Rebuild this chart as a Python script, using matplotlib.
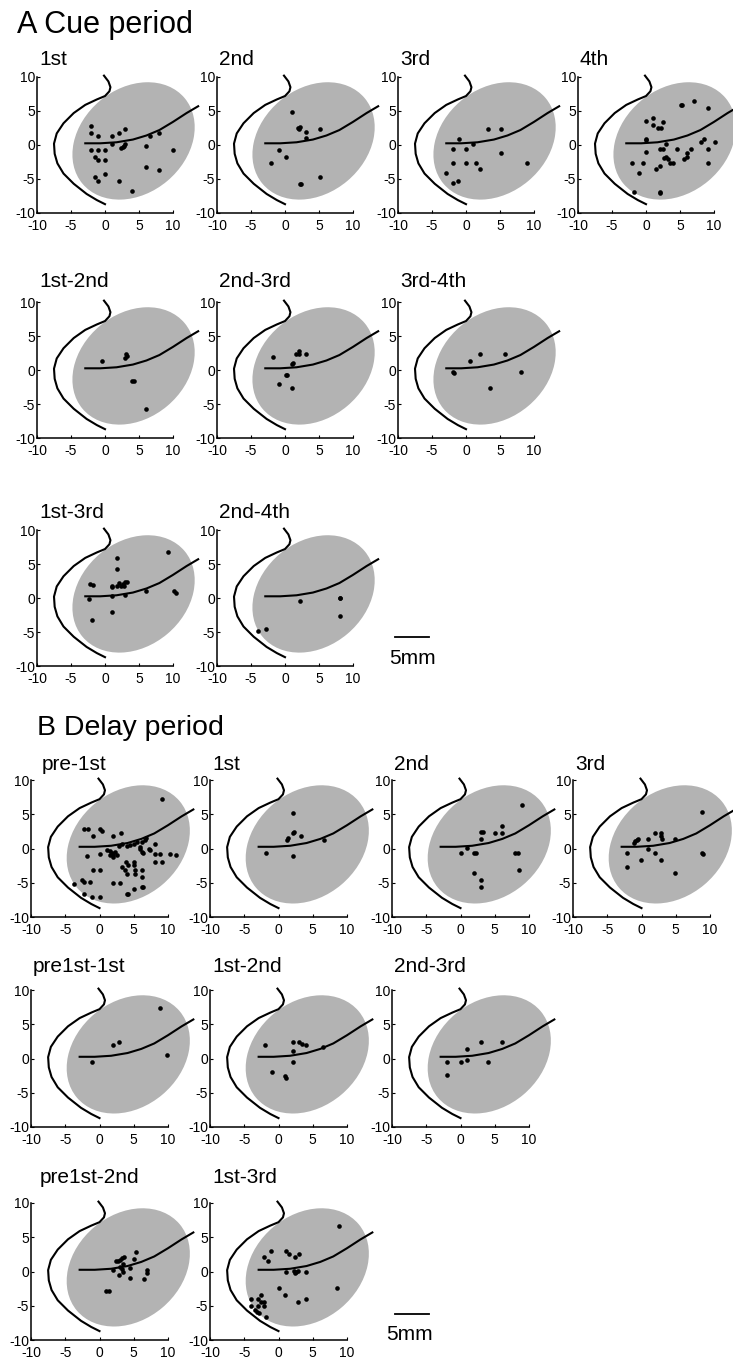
import numpy as np
import matplotlib
matplotlib.use("Agg")
import matplotlib.pyplot as plt
from matplotlib.patches import Ellipse

plt.rcParams['font.family'] = ['Liberation Sans', 'DejaVu Sans']
plt.rcParams['axes.unicode_minus'] = False

# ---- outline template (mm) ----
arc_x = [-0.15, 0.5, 0.8, 0.65, 0.0, -1.2, -2.9, -4.6, -6.1, -7.1, -7.5, -7.4, -7.0, -6.1, -4.6, -2.7, -1.2, 0.0]
arc_y = [10.2, 9.35, 8.5, 7.9, 7.2, 6.7, 5.9, 4.7, 3.2, 1.7, 0.2, -1.3, -2.7, -4.2, -5.7, -7.2, -8.1, -8.7]
line_x = [-2.9, -0.7, 1.7, 4.1, 6.1, 8.0, 10.0, 12.0, 13.7]
line_y = [0.25, 0.25, 0.4, 0.8, 1.4, 2.2, 3.4, 4.7, 5.7]
region_center = (4.2, 0.6)
region_size = (19.6, 15.4)
region_angle = 40

# ---- recording sites, cue period ----
cue_1st = [(-2.0, 2.8), (-2.0, 1.8), (-1.0, 1.3), (-2.0, -0.7), (-1.0, -0.7), (0.0, -0.7),
           (-1.5, -1.7), (-1.0, -2.2), (0.0, -2.2), (-1.5, -4.7), (-1.0, -5.3), (0.0, -4.2),
           (1.1, 1.3), (2.0, 1.8), (3.0, 2.3), (1.0, 0.1), (2.3, -0.4), (2.6, -0.3), (2.8, -0.1),
           (2.9, 0.2), (2.0, -5.3), (4.0, -6.8), (6.0, -0.2), (6.6, 1.3), (8.0, 1.8), (6.0, -3.2),
           (8.0, -3.7), (10.0, -0.7)]
cue_2nd = [(1.1, 4.9), (1.9, 2.5), (2.2, 2.6), (2.0, 2.4), (3.1, 1.85), (3.1, 1.1), (5.1, 2.3),
           (-0.9, -0.7), (0.1, -1.7), (-2.0, -2.7), (2.2, -5.7), (2.4, -5.7), (5.1, -4.7)]
cue_3rd = [(-1.0, 0.9), (-1.9, -0.6), (0.0, -0.6), (1.1, 0.15), (3.2, 2.4), (5.1, 2.4), (5.1, -1.2),
           (-1.9, -2.6), (0.0, -2.6), (1.5, -2.6), (2.1, -3.6), (-3.0, -4.1), (-1.9, -5.6),
           (-1.2, -5.3), (9.0, -2.6)]
cue_4th = [(0.05, 3.5), (1.0, 3.9), (1.0, 3.0), (1.8, 2.5), (2.2, 2.5), (2.5, 3.4), (0.05, 0.9),
           (0.05, 0.7), (0.05, -1.1), (3.0, 0.15), (2.0, -0.6), (2.5, -0.6), (4.5, -0.6), (5.2, 5.9),
           (5.3, 5.9), (7.1, 6.4), (9.1, 5.4), (8.6, 0.9), (8.1, 0.4), (10.1, 0.4), (9.1, -0.6),
           (6.6, -0.6), (6.1, -1.2), (6.1, -1.7), (5.6, -2.1), (3.0, -1.7), (2.7, -1.9), (3.2, -2.1),
           (3.5, -2.6), (4.0, -2.6), (2.0, -3.1), (1.5, -3.6), (9.1, -2.6), (-2.0, -2.6),
           (-0.45, -2.6), (-1.0, -4.1), (2.0, -6.9), (2.0, -7.1), (-1.8, -6.9)]
cue_1st_2nd = [(-0.5, 1.3), (3.1, 2.3), (3.2, 2.1), (3.0, 1.8), (4.0, -1.65), (4.3, -1.65), (6.0, -5.7)]
cue_2nd_3rd = [(-1.8, 1.9), (-0.9, -2.1), (0.1, -0.7), (0.35, -0.7), (1.1, 0.9), (1.2, 1.0),
               (1.1, -2.7), (1.6, 2.3), (2.1, 2.8), (2.1, 2.3), (3.1, 2.3)]
cue_3rd_4th = [(-1.85, -0.25), (-1.7, -0.5), (0.6, 1.3), (2.1, 2.3), (5.7, 2.3), (3.5, -2.6), (8.1, -0.35)]
cue_1st_3rd = [(-2.2, 2.0), (-1.8, 1.9), (-2.3, -0.15), (-1.95, -3.2), (1.0, 1.8), (1.0, 1.6),
               (1.0, 0.25), (1.0, -2.05), (1.8, 5.85), (1.8, 4.25), (1.8, 1.7), (2.1, 2.2), (2.3, 1.7),
               (2.6, 2.1), (2.8, 1.8), (3.0, 2.4), (3.2, 2.4), (2.9, 0.4), (6.0, 1.1), (9.2, 6.7),
               (10.2, 1.0), (10.4, 0.75)]
cue_2nd_4th = [(-3.9, -4.9), (-2.8, -4.5), (2.2, -0.4), (8.05, 0.05), (8.1, -0.05), (8.1, -2.6)]

# ---- recording sites, delay period ----
delay_pre1st = [(9.1, 7.2), (-2.3, 2.8), (-1.75, 2.8), (0.0, 2.8), (0.3, 2.6), (-0.9, 1.8), (2.0, 1.8),
                (3.1, 2.2), (-1.85, -1.1), (0.1, -0.8), (1.1, -0.15), (1.6, -0.3), (1.8, -0.7),
                (2.0, -1.0), (2.3, -0.5), (1.95, -1.2), (2.5, -1.0), (1.5, -0.9), (2.9, 0.4), (3.3, 0.6),
                (4.0, 0.4), (4.4, 0.45), (5.0, 0.7), (5.5, 1.0), (5.85, 0.25), (6.2, 1.0), (6.6, 1.2),
                (6.8, 1.5), (5.85, 0.0), (6.2, -0.5), (6.4, -0.7), (7.2, 0.0), (7.4, -0.25),
                (8.1, 0.7), (8.1, -0.75), (8.9, -0.8), (8.1, -1.95), (9.1, -1.95), (10.3, -0.8),
                (11.2, -0.95), (-0.9, -3.2), (0.1, -3.2), (3.3, -2.7), (3.7, -3.2), (4.0, -3.7),
                (3.9, -1.95), (4.2, -2.4), (5.1, -1.95), (5.1, -2.4), (5.2, -3.2), (5.2, -3.7),
                (6.2, -3.1), (6.2, -4.1), (2.0, -5.1), (3.0, -5.1), (6.2, -5.6), (6.4, -5.6),
                (5.1, -5.85), (4.0, -6.7), (4.2, -6.6), (-2.6, -4.6), (-2.3, -4.9), (-1.4, -4.9),
                (-3.7, -5.2), (-2.3, -6.6), (-1.1, -7.1), (0.1, -7.1)]
delay_1st = [(2.1, 5.2), (2.1, 2.3), (2.3, 2.4), (1.2, 1.3), (1.4, 1.5), (3.3, 1.8), (6.7, 1.3),
             (-1.85, -0.7), (2.1, -1.1)]
delay_2nd = [(0.0, -0.7), (0.95, 0.1), (2.0, -0.7), (2.2, -0.7), (3.05, 2.4), (3.25, 2.4), (3.05, 1.35),
             (5.0, 2.3), (6.0, 3.3), (6.0, 2.3), (9.0, 6.3), (8.0, -0.7), (8.4, -0.7), (8.5, -3.1),
             (2.0, -3.6), (3.05, -4.6), (3.05, -5.65)]
delay_3rd = [(-2.1, -0.7), (-2.1, -2.65), (-1.1, 0.85), (-0.9, 1.1), (-0.6, 1.3), (-0.5, 1.4),
             (-0.05, -1.7), (0.95, 1.35), (0.95, -0.1), (1.95, 2.3), (1.95, -0.7), (2.9, 2.3),
             (2.9, 1.85), (3.0, 1.35), (2.9, -1.7), (4.95, 1.35), (4.95, -3.6), (8.9, 5.3),
             (8.9, -0.7), (9.0, -0.8)]
delay_pre1st_1st = [(-1.1, -0.55), (1.9, 1.95), (2.85, 2.4), (8.8, 7.4), (9.9, 0.45)]
delay_1st_2nd = [(-1.95, 2.0), (-0.95, -1.95), (0.95, -2.55), (1.05, -2.8), (2.05, 2.45), (2.05, 1.05),
                 (2.05, -0.55), (3.05, 2.45), (3.5, 2.1), (3.95, 2.0), (6.5, 1.65)]
delay_2nd_3rd = [(-2.0, -0.55), (-2.0, -2.45), (0.0, -0.55), (0.95, 1.45), (0.95, -0.15), (3.0, 2.4),
                 (3.95, -0.55), (6.0, 2.4)]
delay_pre1st_2nd = [(0.9, -2.8), (1.4, -2.8), (2.0, 0.25), (2.35, 1.6), (2.7, 1.6), (3.0, 1.7), (3.3, 2.0),
                    (3.6, 2.1), (2.85, -0.45), (3.0, 0.65), (3.3, 0.35), (3.5, -0.05), (4.4, 0.5),
                    (4.4, -1.0), (5.0, 1.85), (5.35, 2.8), (6.95, 0.25), (6.95, -0.2), (6.45, -1.15),
                    (3.4, 1.1)]
delay_1st_3rd = [(-1.1, 3.0), (-2.1, 2.1), (-1.55, 1.5), (1.1, 3.0), (1.6, 2.5), (3.0, 2.5), (2.45, 2.1),
                 (1.1, -0.1), (2.3, 0.1), (2.5, -0.1), (2.8, 0.1), (2.4, -0.25), (4.0, -0.1), (0.0, -2.45),
                 (1.0, -3.5), (2.9, -4.5), (4.0, -4.0), (8.55, -2.45), (8.9, 6.6), (-4.05, -4.0),
                 (-3.0, -4.0), (-2.6, -3.5), (-2.1, -4.4), (-4.05, -5.0), (-3.0, -5.0), (-2.1, -5.0),
                 (-3.5, -5.65), (-3.2, -5.9), (-2.9, -6.1), (-1.8, -6.7), (-2.6, -4.4)]

ticks = [-10, -5, 0, 5, 10]

W, H = 733, 1358
fig = plt.figure(figsize=(W / 100, H / 100), dpi=100)


def px_axes(left, top, w, h):
    return fig.add_axes([left / W, 1 - (top + h) / H, w / W, h / H])


def draw_map(ax, pts):
    ax.add_patch(Ellipse(region_center, region_size[0], region_size[1], angle=region_angle,
                         facecolor='#b3b3b3', edgecolor='none', clip_on=False, zorder=0))
    ax.plot(arc_x, arc_y, color='k', lw=1.5, clip_on=False, zorder=2)
    ax.plot(line_x, line_y, color='k', lw=1.5, clip_on=False, zorder=2)
    p = np.array(pts)
    ax.scatter(p[:, 0], p[:, 1], s=11, c='k', linewidths=0, clip_on=False, zorder=3)
    ax.set_xlim(-10, 10)
    ax.set_ylim(-10, 10)
    ax.set_xticks(ticks)
    ax.set_yticks(ticks)
    for s in ['top', 'right']:
        ax.spines[s].set_visible(False)
    for s in ['left', 'bottom']:
        ax.spines[s].set_linewidth(1.1)
    ax.tick_params(direction='in', length=2, width=0.8, labelsize=10)
    ax.tick_params(axis='y', pad=1.5)
    ax.tick_params(axis='x', pad=4)
    ax.patch.set_alpha(0)


def add_panel(left, top, w, h, title, pts, gap, dx=2):
    ax = px_axes(left, top, w, h)
    draw_map(ax, pts)
    fig.text((left + dx) / W, 1 - (top - gap) / H, title, fontsize=15,
             ha='left', va='baseline')
    return ax


def scale_bar(left, top, w, x0, y0, tx, ty):
    sb = px_axes(left, top, w, w)
    sb.set_xlim(-10, 10)
    sb.set_ylim(-10, 10)
    sb.axis('off')
    sb.plot([x0, x0 + 5], [y0, y0], color='k', lw=1.3, clip_on=False)
    sb.text(tx, ty, '5mm', fontsize=15, ha='center', va='baseline')


# ---- A: cue period ----
a_left = [37, 217, 398, 578]
a_top = [77, 302, 530]
a_gap = [12, 15, 12]
aw = 136
fig.text(17 / W, 1 - 33 / H, 'A Cue period', fontsize=22, ha='left', va='baseline')
a_rows = [
    [('1st', cue_1st), ('2nd', cue_2nd), ('3rd', cue_3rd), ('4th', cue_4th)],
    [('1st-2nd', cue_1st_2nd), ('2nd-3rd', cue_2nd_3rd), ('3rd-4th', cue_3rd_4th)],
    [('1st-3rd', cue_1st_3rd), ('2nd-4th', cue_2nd_4th)],
]
for r, row in enumerate(a_rows):
    for c, (name, pts) in enumerate(row):
        add_panel(a_left[c], a_top[r], aw, aw, name, pts, a_gap[r])
scale_bar(a_left[2], a_top[2], aw, -10.5, -5.8, -7.9, -9.7)

# ---- B: delay period ----
b_left = [31, 210, 392, 573]
b_top = [780, 990, 1203]
b_gap = [10, 18, 20]
bw = 137
fig.text(37 / W, 1 - 735 / H, 'B Delay period', fontsize=20.5, ha='left', va='baseline')
b_rows = [
    [('pre-1st', delay_pre1st), ('1st', delay_1st), ('2nd', delay_2nd), ('3rd', delay_3rd)],
    [('pre1st-1st', delay_pre1st_1st), ('1st-2nd', delay_1st_2nd), ('2nd-3rd', delay_2nd_3rd)],
    [('pre1st-2nd', delay_pre1st_2nd), ('1st-3rd', delay_1st_3rd)],
]
title_dx = {'pre-1st': 11, 'pre1st-2nd': 9}
for r, row in enumerate(b_rows):
    for c, (name, pts) in enumerate(row):
        add_panel(b_left[c], b_top[r], bw, bw, name, pts, b_gap[r], title_dx.get(name, 2))
scale_bar(b_left[2], b_top[2], bw, -9.6, -6.2, -7.4, -10.0)

fig.savefig('out.png', dpi=100)
